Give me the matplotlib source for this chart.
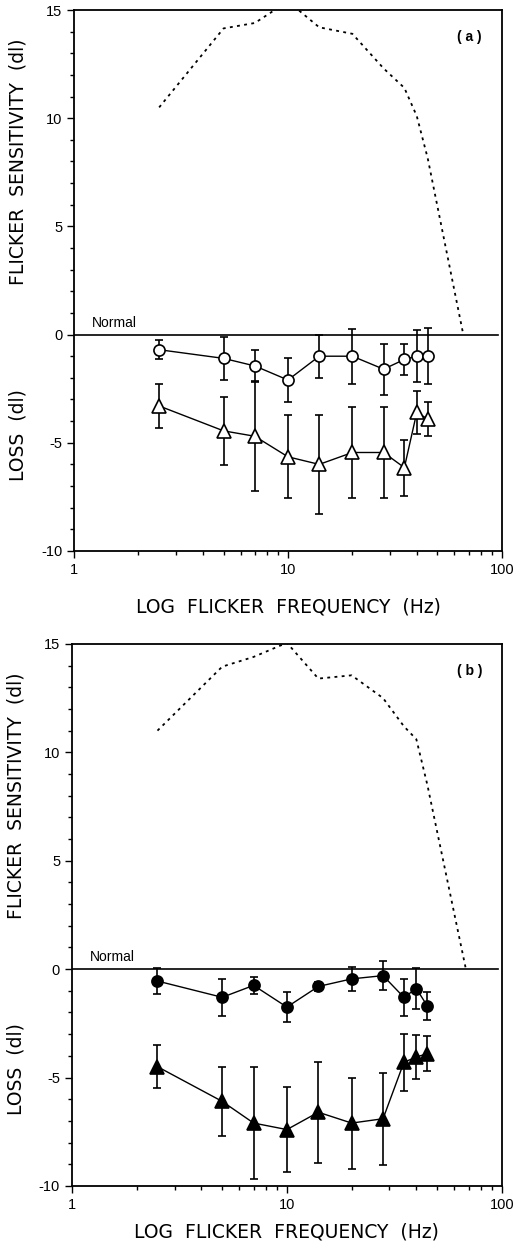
from matplotlib import pyplot as plt
from matplotlib.ticker import LogLocator, NullFormatter, MultipleLocator, FixedLocator

plt.rcParams['font.family'] = ['Liberation Sans', 'DejaVu Sans']

# flicker frequencies (Hz)
freqs = [2.5, 5, 7, 10, 14, 20, 28, 35, 40, 45]

# panel (a): open symbols
a_circ = [-0.7, -1.1, -1.45, -2.1, -1.0, -1.0, -1.6, -1.15, -1.0, -1.0]
a_circ_err = [0.45, 1.0, 0.75, 1.0, 1.0, 1.27, 1.17, 0.7, 1.2, 1.3]
a_tri = [-3.3, -4.45, -4.7, -5.65, -6.0, -5.45, -5.45, -6.15, -3.6, -3.9]
a_tri_err = [1.0, 1.56, 2.54, 1.92, 2.3, 2.12, 2.12, 1.3, 0.98, 0.78]
a_norm_f = [2.5, 5, 7, 10, 14, 20, 28, 35, 40, 45, 66]
a_norm = [10.5, 14.15, 14.4, 15.4, 14.2, 13.9, 12.3, 11.4, 10.1, 8.15, 0.0]

# panel (b): filled symbols
b_circ = [-0.55, -1.3, -0.75, -1.75, -0.8, -0.45, -0.3, -1.3, -0.9, -1.7]
b_circ_err = [0.6, 0.86, 0.38, 0.68, 0.2, 0.55, 0.67, 0.86, 0.95, 0.65]
b_tri = [-4.5, -6.1, -7.1, -7.4, -6.6, -7.1, -6.9, -4.3, -4.05, -3.9]
b_tri_err = [1.0, 1.6, 2.6, 1.95, 2.33, 2.1, 2.13, 1.3, 1.0, 0.8]
b_norm_f = [2.5, 5, 7, 10, 14, 20, 28, 35, 40, 45, 68]
b_norm = [11.0, 13.95, 14.4, 15.05, 13.4, 13.55, 12.5, 11.2, 10.6, 8.5, 0.0]

panels = [
    ('( a )', a_circ, a_circ_err, a_tri, a_tri_err, a_norm_f, a_norm, 'white', [0.141, 0.5596, 0.815, 0.4324], 15),
    ('( b )', b_circ, b_circ_err, b_tri, b_tri_err, b_norm_f, b_norm, 'black', [0.137, 0.052, 0.819, 0.4333], 8),
]

labelFont = dict(family='DejaVu Sans', fontsize=13.5, fontweight='medium')

fig = plt.figure(figsize=[5.25, 12.51], dpi=100)

for tag, circ, circErr, tri, triErr, normF, norm, face, rect, pad in panels:
    ax = fig.add_axes(rect)
    ax.set_xscale('log')
    ax.set_xlim(1, 100)
    ax.set_ylim(-10, 15)

    # normal curve and reference line
    ax.plot(normF, norm, color='black', linestyle=(0, (1.6, 2.4)), linewidth=1.3)
    ax.axhline(0, xmin=0, xmax=0.99, color='black', linewidth=1.2)
    ax.text(1.21, 0.55, 'Normal', fontsize=10, va='center', ha='left')

    # error bars then markers on top
    ax.errorbar(freqs, circ, yerr=circErr, fmt='none', ecolor='black', elinewidth=1.2, capsize=3, capthick=1.2)
    ax.errorbar(freqs, tri, yerr=triErr, fmt='none', ecolor='black', elinewidth=1.2, capsize=3, capthick=1.2)
    ax.plot(freqs, circ, color='black', linewidth=1, marker='o', markersize=8,
            markerfacecolor=face, markeredgecolor='black', markeredgewidth=1.2, zorder=4)
    ax.plot(freqs, tri, color='black', linewidth=1, marker='^', markersize=10,
            markerfacecolor=face, markeredgecolor='black', markeredgewidth=1.2, zorder=4)

    ax.text(0.925, 0.95, tag, transform=ax.transAxes, fontsize=10, fontweight='bold', ha='center', va='center')

    # ticks
    ax.yaxis.set_major_locator(FixedLocator([-10, -5, 0, 5, 10, 15]))
    ax.yaxis.set_minor_locator(MultipleLocator(1))
    ax.set_yticklabels(['-10', '-5', '0', '5', '10', '15'])
    ax.xaxis.set_major_locator(FixedLocator([1, 10, 100]))
    ax.xaxis.set_minor_locator(LogLocator(base=10, subs=range(2, 10)))
    ax.xaxis.set_minor_formatter(NullFormatter())
    ax.set_xticklabels(['1', '10', '100'])
    ax.tick_params(which='major', direction='out', length=5, width=1, labelsize=10.5)
    ax.tick_params(which='minor', direction='out', length=3, width=1)
    for s in ax.spines.values():
        s.set_linewidth(1.3)

    ax.set_xlabel('LOG  FLICKER  FREQUENCY  (Hz)', labelpad=pad, **labelFont)
    ax.text(-0.13, 0.72, 'FLICKER  SENSITIVITY  (dl)', transform=ax.transAxes, rotation=90,
            ha='center', va='center', **labelFont)
    ax.text(-0.13, 0.215, 'LOSS  (dl)', transform=ax.transAxes, rotation=90,
            ha='center', va='center', **labelFont)

plt.savefig('out.png', dpi=100)
plt.close()
